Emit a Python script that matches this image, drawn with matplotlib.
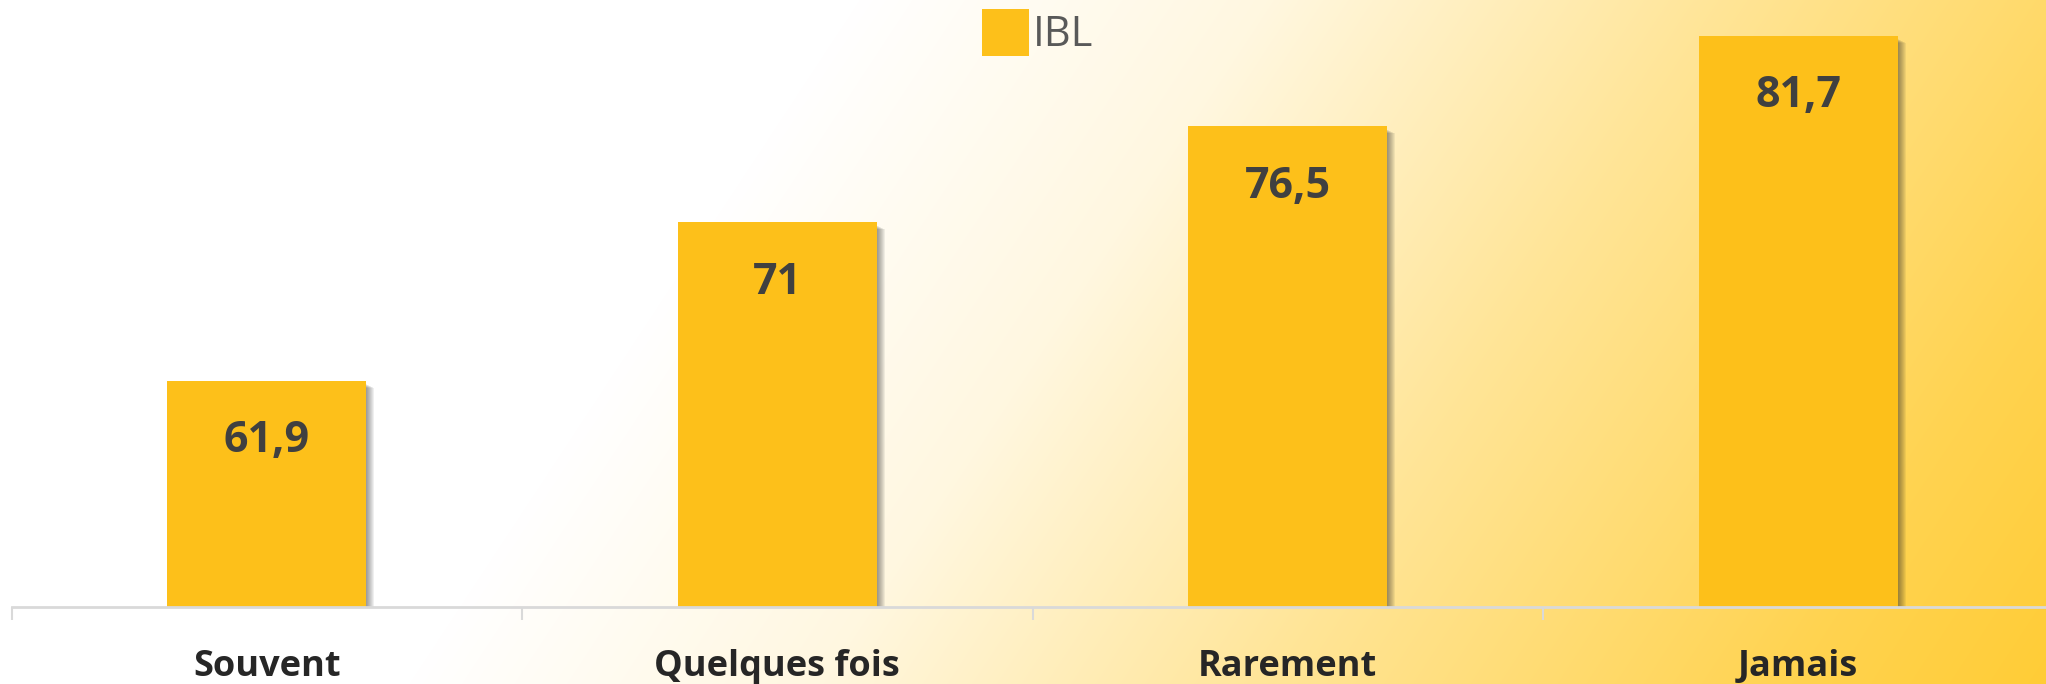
import numpy as np
import matplotlib
matplotlib.use("Agg")
import matplotlib.pyplot as plt
from matplotlib.colors import to_rgb
import matplotlib.transforms as mtransforms

# ---- data ----
categories = ["Souvent", "Quelques fois", "Rarement", "Jamais"]
values = [61.9, 71, 76.5, 81.7]
value_labels = ["61,9", "71", "76,5", "81,7"]
series_name = "IBL"

W, H, DPI = 2046, 684, 100
fig = plt.figure(figsize=(W / DPI, H / DPI), dpi=DPI)

# ---- background gradient (white upper-left -> golden lower-right) ----
bg = fig.add_axes([0, 0, 1, 1], zorder=-10)
xs = np.linspace(0, 1, W)
ys = np.linspace(0, 1, H)
X, Y = np.meshgrid(xs, ys)
S = X + 0.22 * Y
sp = [0.0, 0.42, 0.62, 0.84, 1.09, 1.25]
fp = [0.0, 0.0, 0.15, 0.50, 0.84, 1.0]
T = np.interp(S, sp, fp)
c0 = np.array(to_rgb("#FFFFFF"))
c1 = np.array(to_rgb("#FFCB30"))
img = c0[None, None, :] * (1 - T[..., None]) + c1[None, None, :] * T[..., None]
bg.imshow(img, aspect="auto", extent=(0, 1, 0, 1), origin="upper")
bg.set_axis_off()

# ---- main axes ----
left_px, cat_px, base_px = 11.5, 510.5, 607
ppu = 17.42  # pixels per value unit
ymin = 48.9
ax = fig.add_axes([left_px / W, (H - base_px) / H, 4 * cat_px / W, base_px / H])
ax.patch.set_alpha(0)
ax.set_xlim(-0.5, 3.5)
ax.set_ylim(ymin, ymin + base_px / ppu)

x = np.arange(len(categories))
bw = 0.39

# soft shadow to the right of each bar
for k in range(1, 9):
    dx = k / cat_px
    dy = (3 + 0.5 * k) / ppu
    ax.bar(x + dx, np.array(values) - dy - ymin, bw, bottom=ymin,
           color="#2a2a2a", alpha=0.07, zorder=1, linewidth=0)

bars = ax.bar(x, np.array(values) - ymin, bw, bottom=ymin, color="#FDC01A",
              zorder=3, linewidth=0, label=series_name)

for xi, v, lab in zip(x, values, value_labels):
    ax.annotate(lab, (xi, v), xytext=(0, -71.5), textcoords="offset pixels",
                ha="center", va="baseline", fontsize=31, fontweight="bold",
                family="Open Sans", color="#404040", zorder=5)

# axis styling
for s in ["top", "right", "left"]:
    ax.spines[s].set_visible(False)
ax.spines["bottom"].set_color("#D9D9D9")
ax.spines["bottom"].set_linewidth(2)
ax.spines["bottom"].set_zorder(4)
ax.set_yticks([])
ax.set_xticks(x)
ax.set_xticklabels([])
ax.tick_params(axis="x", which="major", length=0)
ax.set_xticks(np.arange(-0.5, len(categories) + 0.5, 1), minor=True)
ax.tick_params(axis="x", which="minor", length=9, width=1.5, color="#D9D9D9")

trans = mtransforms.blended_transform_factory(ax.transData, fig.transFigure)
for xi, c in zip(x, categories):
    ax.text(xi, (H - 676) / H, c, transform=trans,
            ha="center", va="baseline", fontsize=26, fontweight="bold",
            family="Open Sans", color="#262626")

leg = fig.legend(handles=[bars], labels=[series_name], loc="upper left",
                 bbox_to_anchor=(982 / W, 1 - 9 / H), frameon=False,
                 prop={"family": "Open Sans", "size": 30},
                 handlelength=1.13, handleheight=1.36, handletextpad=0.1,
                 borderpad=0, borderaxespad=0)
for t in leg.get_texts():
    t.set_color("#595959")

fig.savefig("out.png", dpi=DPI)
